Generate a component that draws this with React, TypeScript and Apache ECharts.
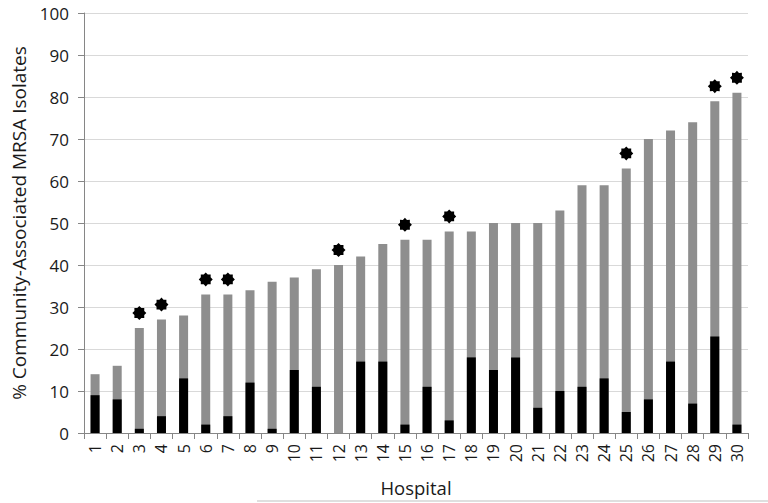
import React, { useEffect, useRef } from "react";
import * as echarts from "echarts";

const hospitals = Array.from({ length: 30 }, (_, i) => String(i + 1));
const totalPct = [14, 16, 25, 27, 28, 33, 33, 34, 36, 37, 39, 40, 42, 45, 46, 46, 48, 48, 50, 50, 50, 53, 59, 59, 63, 70, 72, 74, 79, 81];
const blackPct = [9, 8, 1, 4, 13, 2, 4, 12, 1, 15, 11, 0, 17, 17, 2, 11, 3, 18, 15, 18, 6, 10, 11, 13, 5, 8, 17, 7, 23, 2];
const starred = [3, 4, 6, 7, 12, 15, 17, 25, 29, 30];
const yTicks = { min: 0, max: 100, interval: 10 };

function starPath(): string {
  const pts: string[] = [];
  const n = 8;
  for (let i = 0; i < n * 2; i++) {
    const r = i % 2 === 0 ? 10 : 7.6;
    const a = (Math.PI * i) / n - Math.PI / 2;
    pts.push(`${(10 + r * Math.cos(a)).toFixed(2)} ${(10 + r * Math.sin(a)).toFixed(2)}`);
  }
  return "path://M" + pts.join(" L") + " Z";
}

export default function App() {
  const ref = useRef<HTMLDivElement>(null);
  useEffect(() => {
    if (!ref.current) return;
    const chart = echarts.init(ref.current, null, { renderer: "svg" });
    const font = "'Open Sans', Lato, sans-serif";
    const starData = hospitals.map((h, i) => (starred.includes(i + 1) ? totalPct[i] : null));
    chart.setOption({
      animation: false,
      backgroundColor: "#ffffff",
      grid: { left: 84, right: 20, top: 13, bottom: 70, containLabel: false },
      xAxis: {
        type: "category",
        data: hospitals,
        name: "Hospital",
        nameLocation: "middle",
        nameGap: 45,
        nameTextStyle: { fontFamily: font, fontSize: 18.5, color: "#1a1a1a" },
        axisLine: { lineStyle: { color: "#868686", width: 1 } },
        axisTick: { show: true, alignWithLabel: false, length: 6, lineStyle: { color: "#868686" } },
        axisLabel: { rotate: 90, interval: 0, fontFamily: font, fontSize: 16, color: "#1a1a1a", margin: 11 },
        splitLine: { show: false },
      },
      yAxis: {
        type: "value",
        min: yTicks.min,
        max: yTicks.max,
        interval: yTicks.interval,
        name: "% Community-Associated MRSA Isolates",
        nameLocation: "middle",
        nameGap: 53,
        nameTextStyle: { fontFamily: font, fontSize: 19, color: "#1a1a1a" },
        axisLine: { show: true, lineStyle: { color: "#868686", width: 1 } },
        axisTick: { show: true, length: 6, lineStyle: { color: "#868686" } },
        axisLabel: { fontFamily: font, fontSize: 17, color: "#1a1a1a", margin: 15 },
        splitLine: { show: true, lineStyle: { color: "#d9d9d9", width: 1 } },
      },
      series: [
        {
          type: "bar",
          data: totalPct,
          barWidth: 9,
          barGap: "-100%",
          itemStyle: { color: "#8e8e8e" },
          z: 2,
        },
        {
          type: "bar",
          data: blackPct,
          barWidth: 9,
          itemStyle: { color: "#000000" },
          z: 3,
        },
        {
          type: "scatter",
          data: starData,
          symbol: starPath(),
          symbolSize: 14,
          symbolOffset: [0, -15],
          itemStyle: { color: "#000000", opacity: 1 },
          z: 4,
        },
      ],
      graphic: [
        {
          type: "line",
          shape: { x1: 257, y1: 501, x2: 768, y2: 501 },
          style: { stroke: "#bfbfbf", lineWidth: 1 },
        },
      ],
    });
    return () => chart.dispose();
  }, []);
  return <div ref={ref} style={{ width: 768, height: 503, position: "absolute", left: 0, top: 0 }} />;
}
